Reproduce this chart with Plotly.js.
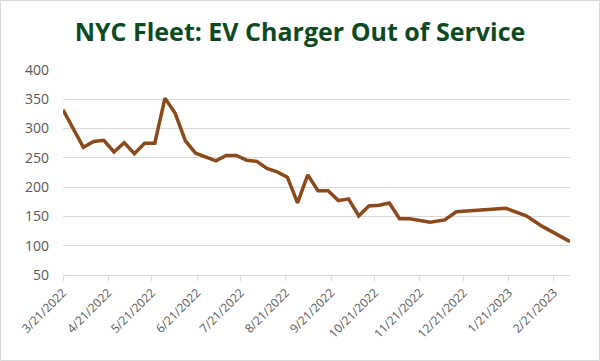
<!DOCTYPE html>
<html>
<head>
<meta charset="utf-8">
<script src="https://cdn.plot.ly/plotly-3.0.1.min.js"></script>
<style>html,body{margin:0;padding:0;background:#fff;}#chart{width:600px;height:361px;}</style>
</head>
<body>
<div id="chart"></div>
<script>
const dates = [
  '2022-03-21','2022-03-28','2022-04-04','2022-04-11','2022-04-18','2022-04-25',
  '2022-05-02','2022-05-09','2022-05-16','2022-05-23','2022-05-30','2022-06-06',
  '2022-06-13','2022-06-20','2022-06-27','2022-07-04','2022-07-11','2022-07-18',
  '2022-07-25','2022-08-01','2022-08-08','2022-08-15','2022-08-22','2022-08-29',
  '2022-09-05','2022-09-12','2022-09-19','2022-09-26','2022-10-03','2022-10-10',
  '2022-10-17','2022-10-24','2022-10-31','2022-11-07','2022-11-14','2022-11-21',
  '2022-11-28','2022-12-08','2022-12-16','2023-01-19','2023-02-02','2023-02-13',
  '2023-03-04'
];
const outOfService = [
  332, 300, 268, 278, 280, 260,
  276, 257, 275, 275, 352, 326,
  279, 258, 252, 245, 254, 254,
  246, 244, 232, 226, 217, 173,
  221, 194, 194, 177, 180, 151,
  168, 169, 173, 146, 146, 143,
  140, 144, 158, 164, 151, 133,
  107
];
const tickDates = ['2022-03-21','2022-04-21','2022-05-21','2022-06-21','2022-07-21','2022-08-21',
  '2022-09-21','2022-10-21','2022-11-21','2022-12-21','2023-01-21','2023-02-21'];
const tickLabels = ['3/21/2022','4/21/2022','5/21/2022','6/21/2022','7/21/2022','8/21/2022',
  '9/21/2022','10/21/2022','11/21/2022','12/21/2022','1/21/2023','2/21/2023'];

const W = 600, H = 361, ml = 63, mr = 30, mt = 70, mb = 86;
const pw = W - ml - mr, ph = H - mt - mb;

const trace = {
  x: dates, y: outOfService, type: 'scatter', mode: 'lines',
  line: {color: '#8c4a1b', width: 3.5}, hoverinfo: 'x+y'
};
const layout = {
  width: W, height: H,
  margin: {l: ml, r: mr, t: mt, b: mb, pad: 0},
  paper_bgcolor: '#ffffff', plot_bgcolor: '#ffffff',
  showlegend: false,
  title: {text: '<b>NYC Fleet: EV Charger Out of Service</b>', x: 0.5, xanchor: 'center', y: 0.91, yanchor: 'middle',
    font: {family: 'Open Sans, sans-serif', size: 25, color: '#0d4a1f'}},
  xaxis: {
    type: 'date', range: [dates[0], dates[dates.length - 1]],
    tickvals: tickDates, ticktext: tickLabels, tickangle: -45,
    ticks: 'outside', ticklen: 5, tickcolor: '#d9d9d9', tickwidth: 1,
    showline: true, linecolor: '#d9d9d9', linewidth: 1,
    showgrid: false, zeroline: false,
    tickfont: {family: 'Open Sans, sans-serif', size: 12, color: '#595959'}
  },
  yaxis: {
    range: [50, 400], dtick: 50, tick0: 50,
    showgrid: true, gridcolor: '#d9d9d9', gridwidth: 1,
    showline: false, zeroline: false, ticks: '',
    ticklabelstandoff: 13,
    tickfont: {family: 'Open Sans, sans-serif', size: 14, color: '#595959'}
  },
  shapes: [{
    type: 'rect', xref: 'paper', yref: 'paper',
    x0: (0.5 - ml) / pw, x1: (W - 0.5 - ml) / pw,
    y0: (mt + ph - (H - 0.5)) / ph, y1: (mt + ph - 0.5) / ph,
    line: {color: '#d9d9d9', width: 1}, fillcolor: 'rgba(0,0,0,0)', layer: 'below'
  }]
};
Plotly.newPlot('chart', [trace], layout, {staticPlot: true, displayModeBar: false});
</script>
</body>
</html>
